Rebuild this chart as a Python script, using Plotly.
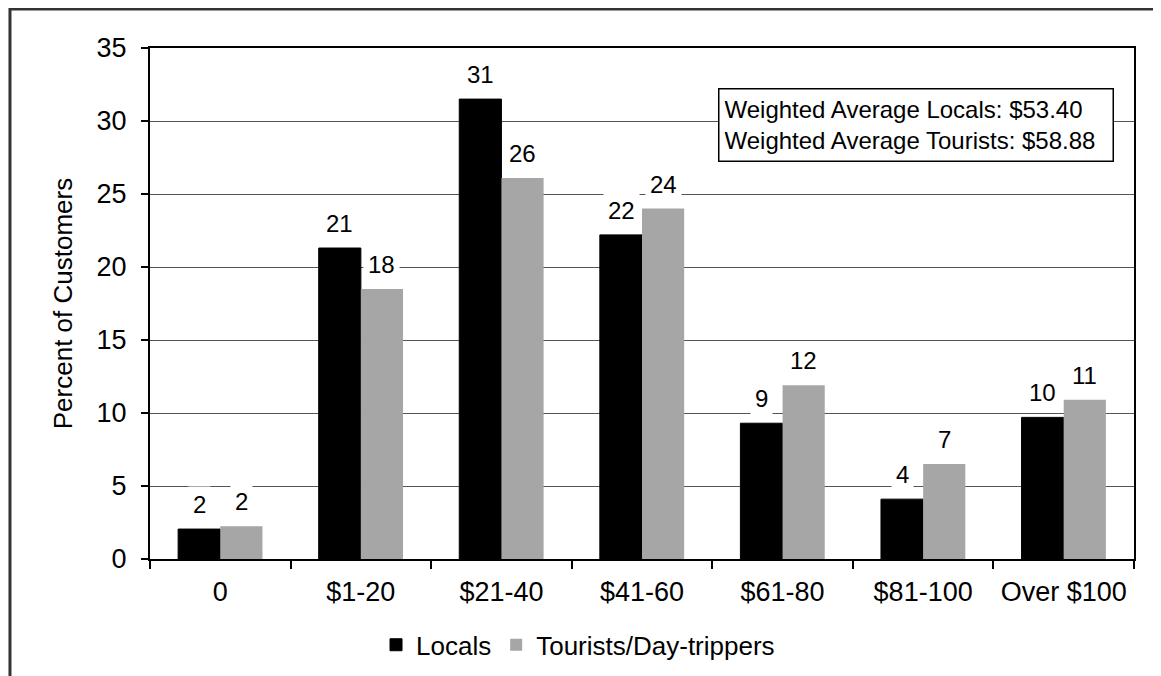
import plotly.graph_objects as go

categories = ["0", "$1-20", "$21-40", "$41-60", "$61-80", "$81-100", "Over $100"]
locals_vals = [2.05, 21.3, 31.5, 22.2, 9.3, 4.1, 9.7]
tourists_vals = [2.25, 18.5, 26.1, 24.0, 11.9, 6.5, 10.9]
locals_labels = ["2", "21", "31", "22", "9", "4", "10"]
tourists_labels = ["2", "18", "26", "24", "12", "7", "11"]
y_ticks = [0, 5, 10, 15, 20, 25, 30, 35]
note_lines = ["Weighted Average Locals: $53.40", "Weighted Average Tourists: $58.88"]

FONT = "Liberation Sans, Arial, sans-serif"

fig = go.Figure()
fig.add_trace(go.Bar(name="Locals", x=categories, y=locals_vals,
                     marker=dict(color="#000000", line=dict(color="#000000", width=1))))
fig.add_trace(go.Bar(name="Tourists/Day-trippers", x=categories, y=tourists_vals,
                     marker=dict(color="#a6a6a6", line=dict(width=0))))

annotations = []
for cat, v, t in zip(categories, locals_vals, locals_labels):
    annotations.append(dict(x=cat, y=v, xref="x", yref="y", text=t, showarrow=False,
                            xshift=-21, yshift=6, yanchor="bottom", bgcolor="white",
                            borderpad=4, font=dict(family=FONT, size=24, color="black")))
for cat, v, t in zip(categories, tourists_vals, tourists_labels):
    annotations.append(dict(x=cat, y=v, xref="x", yref="y", text=t, showarrow=False,
                            xshift=21, yshift=6, yanchor="bottom", bgcolor="white",
                            borderpad=4, font=dict(family=FONT, size=24, color="black")))

annotations.append(dict(xref="paper", yref="paper", x=0.577, y=0.9217,
                        xanchor="left", yanchor="top", align="left",
                        width=383, height=61,
                        text="<br>".join(note_lines), showarrow=False,
                        bgcolor="white", bordercolor="black", borderwidth=1.5,
                        borderpad=5, font=dict(family=FONT, size=24, color="black")))

fig.update_layout(
    width=1161, height=676,
    margin=dict(l=142, r=35, t=40, b=125, autoexpand=False),
    paper_bgcolor="white", plot_bgcolor="white",
    barmode="group", bargap=0.4, bargroupgap=0,
    font=dict(family=FONT, size=26, color="black"),
    showlegend=True,
    legend=dict(orientation="h", x=0.2297, y=-0.168, xanchor="left", yanchor="middle",
                font=dict(family=FONT, size=26, color="black"),
                itemwidth=30, tracegroupgap=0),
    annotations=annotations,
    shapes=[dict(type="rect", xref="paper", yref="paper",
                 x0=-0.1423, x1=1.05, y0=-0.25, y1=1.0763,
                 line=dict(color="#333333", width=3), layer="below")],
)

fig.update_xaxes(type="category", showline=True, linecolor="black", linewidth=2,
                 mirror=True, ticks="outside", tickson="boundaries", ticklen=8,
                 tickcolor="black", tickwidth=1.5, showgrid=False,
                 ticklabelstandoff=8,
                 tickfont=dict(family=FONT, size=27, color="black"))
fig.update_yaxes(range=[0, 35], tickvals=y_ticks, showline=True, linecolor="black",
                 linewidth=2, mirror=True, ticks="outside", ticklen=7, tickcolor="black",
                 tickwidth=1.5, showgrid=True, gridcolor="#555555", gridwidth=1,
                 zeroline=False, ticklabelstandoff=9,
                 tickfont=dict(family=FONT, size=27, color="black"),
                 title=dict(text="Percent of Customers", standoff=16,
                            font=dict(family=FONT, size=26, color="black")))

fig.write_html("out.html")
